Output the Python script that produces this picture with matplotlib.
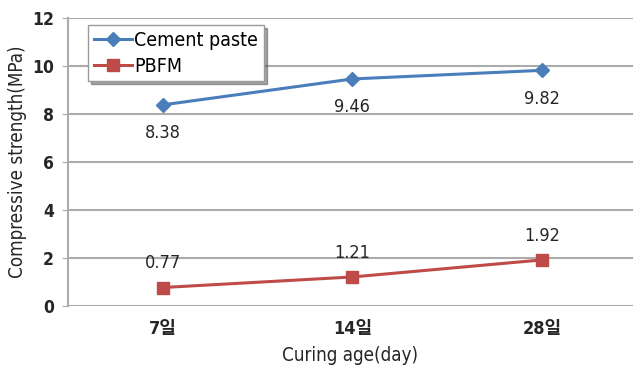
import matplotlib.pyplot as plt
import numpy as np

plt.rcParams['font.family'] = ['DejaVu Sans', 'Noto Sans CJK KR']
plt.rcParams['font.stretch'] = 'condensed'

# Daten
ages = ['7일', '14일', '28일']
cement = [8.38, 9.46, 9.82]
pbfm = [0.77, 1.21, 1.92]
yticks = [0, 2, 4, 6, 8, 10, 12]

blau = '#4a7ebb'
rot = '#be4b48'
grau = '#ababab'
text = '#262626'

fig = plt.figure(figsize=(6.33, 3.70), dpi=100)
ax = fig.add_axes([68/633, 64/370, 1 - 68/633, 288/370])
x = np.arange(1, len(ages) + 1)

ax.plot(x, cement, color=blau, lw=2.2, marker='D', ms=7, label='Cement paste')
ax.plot(x, pbfm, color=rot, lw=2.2, marker='s', ms=8, label='PBFM')

for xi, v in zip(x, cement):
    ax.annotate(f'{v:.2f}', (xi, v), xytext=(0, -14), textcoords='offset points',
                ha='center', va='top', fontsize=13, color=text)
for xi, v in zip(x, pbfm):
    ax.annotate(f'{v:.2f}', (xi, v), xytext=(0, 11), textcoords='offset points',
                ha='center', va='bottom', fontsize=13, color=text)

ax.set_xlim(0.5, 3.48)
ax.set_ylim(0, 12)
ax.set_yticks(yticks)
ax.set_xticks(x)
ax.set_xticklabels(ages)
ax.tick_params(axis='y', length=4, color=grau, labelsize=12.5, pad=6)
ax.tick_params(axis='x', length=0, labelsize=13, pad=10)
for lab in ax.get_yticklabels() + ax.get_xticklabels():
    lab.set_fontweight('bold')
    lab.set_color(text)

ax.grid(axis='y', color=grau, lw=1.5)
ax.set_axisbelow(True)
for s in ['top', 'right', 'bottom']:
    ax.spines[s].set_visible(False)
ax.spines['left'].set_color(grau)
ax.spines['left'].set_linewidth(1.5)

ax.set_ylabel('Compressive strength(MPa)', fontsize=13.5, labelpad=4, color=text)
ax.set_xlabel('Curing age(day)', fontsize=13.5, labelpad=6, color=text)

leg = ax.legend(loc='upper left', bbox_to_anchor=(0.035, 0.976), fontsize=14, frameon=True,
                fancybox=False, shadow=True, edgecolor='#999999', handlelength=2.0,
                borderpad=0.3, labelspacing=0.35, handletextpad=0.1, borderaxespad=0)
leg.get_frame().set_linewidth(1.0)

fig.savefig('out.png', dpi=100)
